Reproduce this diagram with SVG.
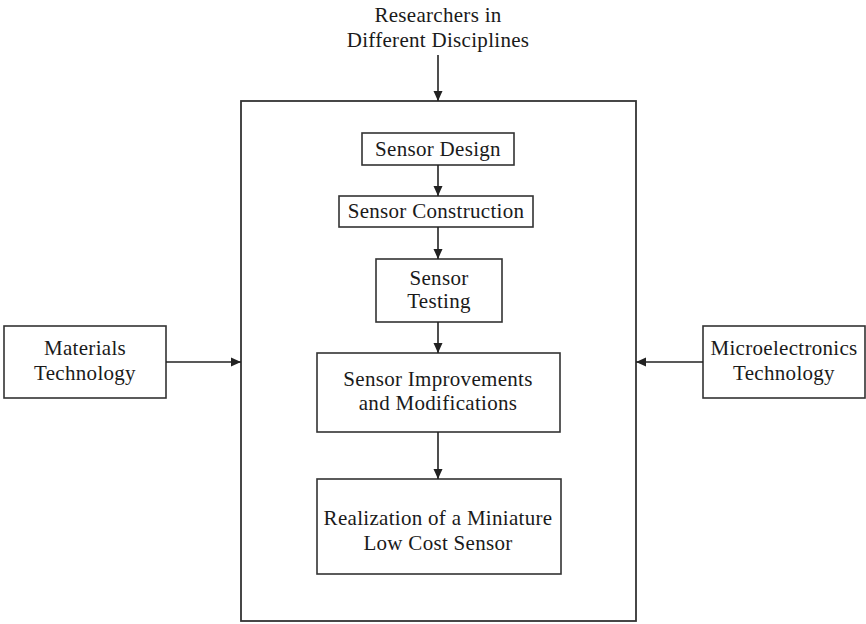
<svg xmlns="http://www.w3.org/2000/svg" width="866" height="624" viewBox="0 0 866 624">
<style>
.box{fill:#fff;stroke:#333;stroke-width:1.6}
.outer{fill:none;stroke:#333;stroke-width:1.8}
text{font-family:"Liberation Serif","Times New Roman",serif;font-size:21px;fill:#1a1a1a;text-anchor:middle;letter-spacing:0.3px}
.conn line{stroke:#222;stroke-width:1.6}
</style>
<defs>
<marker id="ah" viewBox="0 0 10 10" refX="10" refY="5" markerWidth="10" markerHeight="10" markerUnits="userSpaceOnUse" orient="auto">
<path d="M0,0.5 L10,5 L0,9.5 Z" fill="#222"/>
</marker>
</defs>
<rect width="866" height="624" fill="#fff"/>
<g id="researchers">
<text x="438" y="22">Researchers in</text>
<text x="438" y="47">Different Disciplines</text>
</g>
<g id="outer">
<rect class="outer" x="241" y="101" width="395" height="520"/>
</g>
<g id="design">
<rect class="box" x="362" y="133" width="152" height="32"/>
<text x="438" y="156">Sensor Design</text>
</g>
<g id="construction">
<rect class="box" x="339" y="196" width="194" height="31"/>
<text x="436" y="218">Sensor Construction</text>
</g>
<g id="testing">
<rect class="box" x="376" y="259" width="126" height="63"/>
<text x="439" y="285">Sensor</text>
<text x="439" y="308">Testing</text>
</g>
<g id="improvements">
<rect class="box" x="317" y="353" width="243" height="79"/>
<text x="438" y="386">Sensor Improvements</text>
<text x="438" y="410">and Modifications</text>
</g>
<g id="realization">
<rect class="box" x="317" y="479" width="244" height="95"/>
<text x="438" y="525">Realization of a Miniature</text>
<text x="438" y="550">Low Cost Sensor</text>
</g>
<g id="materials">
<rect class="box" x="4" y="326" width="162" height="72"/>
<text x="85" y="355">Materials</text>
<text x="85" y="380">Technology</text>
</g>
<g id="microelectronics">
<rect class="box" x="703" y="326" width="162" height="72"/>
<text x="784" y="355">Microelectronics</text>
<text x="784" y="380">Technology</text>
</g>
<g id="connectors" class="conn">
<line x1="438" y1="55" x2="438" y2="101" marker-end="url(#ah)"/>
<line x1="438" y1="165" x2="438" y2="196" marker-end="url(#ah)"/>
<line x1="438" y1="227" x2="438" y2="259" marker-end="url(#ah)"/>
<line x1="438" y1="322" x2="438" y2="353" marker-end="url(#ah)"/>
<line x1="438" y1="432" x2="438" y2="479" marker-end="url(#ah)"/>
<line x1="166" y1="362" x2="241" y2="362" marker-end="url(#ah)"/>
<line x1="703" y1="362" x2="636" y2="362" marker-end="url(#ah)"/>
</g>
</svg>
